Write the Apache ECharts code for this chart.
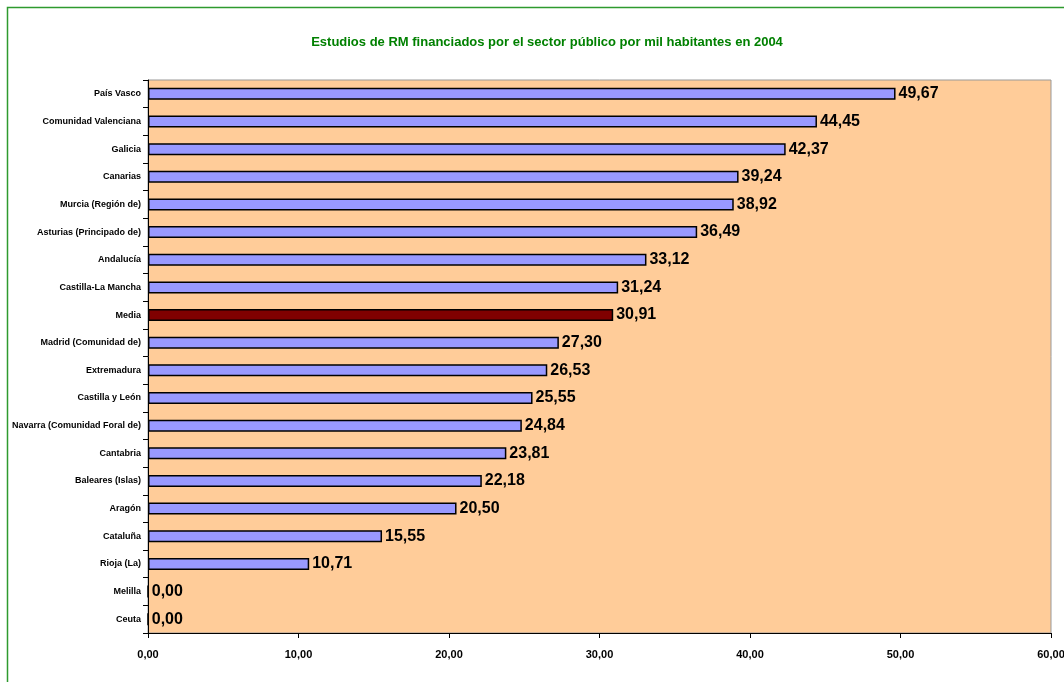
<!DOCTYPE html>
<html>
<head>
<meta charset="utf-8">
<script src="https://cdn.jsdelivr.net/npm/echarts@6/dist/echarts.min.js"></script>
<style>
	html, body { margin: 0; padding: 0; background: #fff; }
	#chart { width: 1064px; height: 682px; }
</style>
</head>
<body>
<div id="chart"></div>
<script>
// Data, top to bottom as shown in the picture
const regions = [
	'País Vasco', 'Comunidad Valenciana', 'Galicia', 'Canarias', 'Murcia (Región de)',
	'Asturias (Principado de)', 'Andalucía', 'Castilla-La Mancha', 'Media',
	'Madrid (Comunidad de)', 'Extremadura', 'Castilla y León', 'Navarra (Comunidad Foral de)',
	'Cantabria', 'Baleares (Islas)', 'Aragón', 'Cataluña', 'Rioja (La)', 'Melilla', 'Ceuta'
];
const studies = [
	49.67, 44.45, 42.37, 39.24, 38.92, 36.49, 33.12, 31.24, 30.91,
	27.30, 26.53, 25.55, 24.84, 23.81, 22.18, 20.50, 15.55, 10.71, 0.00, 0.00
];
const highlight = 'Media';

const fontFamily = '"Liberation Sans Narrow", "Arial Narrow", "Liberation Sans", Arial, sans-serif';
const fmt = ( v ) => v.toFixed( 2 ).replace( '.', ',' );

// category axis runs bottom-up, so reverse for display
const cats = regions.slice().reverse();
const vals = studies.slice().reverse().map( ( v, i ) => ( {
	value: v,
	itemStyle: cats[ i ] === highlight ? { color: '#800000' } : undefined
} ) );

const chart = echarts.init( document.getElementById( 'chart' ) );
chart.setOption( {
	animation: false,
	textStyle: { fontFamily: fontFamily },
	title: {
		text: 'Estudios de RM financiados por el sector público por mil habitantes en 2004',
		left: 542,
		top: 31,
		textAlign: 'center',
		textStyle: { color: '#008000', fontSize: 13, fontWeight: 'bold', fontFamily: fontFamily }
	},
	graphic: [ {
		type: 'rect',
		shape: { x: 7.5, y: 7.5, width: 1080, height: 700 },
		style: { fill: null, stroke: '#2e9a2e', lineWidth: 1.5 },
		silent: true
	} ],
	grid: {
		left: 148,
		top: 80,
		width: 903,
		height: 553,
		outerBoundsMode: 'none',
		containLabel: false,
		show: true,
		backgroundColor: '#ffcc99',
		borderColor: '#999',
		borderWidth: 1
	},
	xAxis: {
		type: 'value',
		min: 0,
		max: 60,
		interval: 10,
		splitLine: { show: false },
		axisLine: { show: true, lineStyle: { color: '#000', width: 1 } },
		axisTick: { show: true, length: 5, lineStyle: { color: '#000' } },
		axisLabel: {
			formatter: fmt,
			color: '#000',
			fontWeight: 'bold',
			fontSize: 11,
			margin: 16
		}
	},
	yAxis: {
		type: 'category',
		data: cats,
		axisLine: { show: true, lineStyle: { color: '#000', width: 1 } },
		axisTick: { show: true, length: 5, lineStyle: { color: '#000' } },
		axisLabel: { color: '#000', fontWeight: 'bold', fontSize: 9, margin: 7 }
	},
	series: [ {
		type: 'bar',
		data: vals,
		barWidth: 12,
		itemStyle: { color: '#9999ff', borderColor: '#000', borderWidth: 1.5 },
		label: {
			show: true,
			position: 'right',
			distance: 3,
			formatter: ( p ) => fmt( p.value ),
			color: '#000',
			fontWeight: 'bold',
			fontSize: 16
		}
	} ]
} );
</script>
</body>
</html>
